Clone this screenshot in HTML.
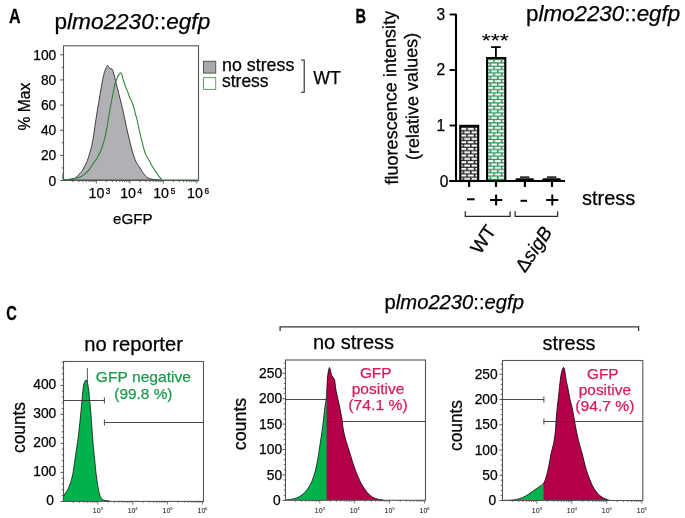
<!DOCTYPE html>
<html><head><meta charset="utf-8"><style>
html,body{margin:0;padding:0;background:#fff;width:685px;height:518px;overflow:hidden;}
svg{display:block;}
text{font-family:"Liberation Sans",sans-serif;}
svg{will-change:transform}
</style></head><body>
<svg width="685" height="518" viewBox="0 0 685 518">
<rect width="685" height="518" fill="#fff"/>
<text x="8.9" y="22.8" font-size="20" font-weight="bold" transform="translate(8.9 0) scale(0.8 1) translate(-8.9 0)" stroke="#000" stroke-width="0.25">A</text>
<text x="54.5" y="29.0" font-size="22.3" textLength="155.7" lengthAdjust="spacingAndGlyphs" stroke="#000" stroke-width="0.25">p<tspan font-style="italic">lmo2230</tspan>::<tspan font-style="italic">egfp</tspan></text>
<path d="M63.20,180.10 C63.64,180.06 66.08,179.88 67.00,179.80 C67.92,179.72 70.13,179.60 71.10,179.40 C72.07,179.20 74.48,178.58 75.30,178.10 C76.12,177.62 77.38,176.03 78.10,175.30 C78.82,174.57 80.78,172.78 81.50,171.80 C82.22,170.82 83.73,167.95 84.30,166.90 C84.87,165.85 85.91,163.93 86.40,162.80 C86.89,161.67 87.93,158.98 88.50,157.20 C89.07,155.41 90.74,149.76 91.30,147.50 C91.86,145.24 92.84,140.48 93.30,137.80 C93.75,135.12 94.78,127.36 95.20,124.50 C95.62,121.64 96.46,116.06 96.90,113.30 C97.34,110.53 98.51,103.72 99.00,100.80 C99.49,97.88 100.61,91.05 101.10,88.30 C101.59,85.55 102.79,79.14 103.20,77.20 C103.61,75.26 104.27,72.75 104.60,71.70 C104.93,70.65 105.67,68.94 106.00,68.20 C106.33,67.47 107.07,65.56 107.40,65.40 C107.73,65.24 108.48,66.39 108.80,66.80 C109.11,67.21 109.74,68.66 110.10,68.90 C110.46,69.15 111.53,68.57 111.90,68.90 C112.27,69.23 112.94,70.57 113.30,71.70 C113.66,72.83 114.56,76.81 115.00,78.60 C115.44,80.38 116.61,85.05 117.10,87.00 C117.59,88.95 118.69,93.26 119.20,95.30 C119.71,97.34 121.02,102.55 121.50,104.50 C121.98,106.45 122.91,110.27 123.30,112.00 C123.69,113.73 124.39,117.34 124.80,119.30 C125.21,121.26 126.24,126.32 126.80,128.80 C127.36,131.29 128.95,137.93 129.60,140.60 C130.25,143.27 131.68,149.27 132.40,151.70 C133.12,154.13 135.00,159.63 135.80,161.40 C136.61,163.17 138.48,165.61 139.30,166.90 C140.12,168.19 141.91,171.28 142.80,172.50 C143.69,173.72 145.85,176.62 146.90,177.40 C147.95,178.18 150.74,178.92 151.80,179.20 C152.86,179.48 154.95,179.70 156.00,179.80 C157.05,179.91 160.24,180.06 160.80,180.10 Z" fill="#b1b0b5" stroke="#2a2a2a" stroke-width="0.9"/>
<path d="M63.10,172.50 C63.10,173.33 62.49,178.79 63.10,179.60 C63.71,180.41 66.88,179.55 68.30,179.40 C69.72,179.25 73.84,178.62 75.30,178.30 C76.76,177.99 79.67,177.21 80.80,176.70 C81.93,176.19 84.02,174.72 85.00,173.90 C85.98,173.08 88.23,170.91 89.20,169.70 C90.17,168.49 92.33,164.96 93.30,163.50 C94.27,162.04 96.60,158.74 97.50,157.20 C98.40,155.66 100.27,152.09 101.00,150.30 C101.73,148.52 103.24,143.85 103.80,141.90 C104.36,139.95 105.37,135.63 105.80,133.60 C106.23,131.57 107.15,126.54 107.50,124.50 C107.85,122.46 108.41,118.38 108.80,116.10 C109.19,113.82 110.32,107.59 110.80,105.00 C111.28,102.41 112.45,96.25 112.90,93.90 C113.36,91.56 114.29,86.52 114.70,84.90 C115.11,83.28 116.04,80.98 116.40,80.00 C116.76,79.02 117.47,77.15 117.80,76.50 C118.13,75.85 118.87,74.83 119.20,74.40 C119.53,73.97 120.28,72.80 120.60,72.80 C120.91,72.80 121.59,73.56 121.90,74.40 C122.22,75.24 122.89,78.61 123.30,80.00 C123.71,81.39 124.91,85.00 125.40,86.30 C125.89,87.59 127.01,89.80 127.50,91.10 C127.99,92.39 129.11,96.19 129.60,97.40 C130.09,98.61 131.29,100.61 131.70,101.50 C132.11,102.39 132.76,103.95 133.10,105.00 C133.44,106.05 134.12,108.69 134.60,110.50 C135.08,112.31 136.57,117.81 137.20,120.50 C137.83,123.19 139.35,130.78 140.00,133.60 C140.65,136.42 142.15,142.27 142.80,144.70 C143.45,147.13 144.88,152.62 145.60,154.40 C146.32,156.19 148.28,158.69 149.00,160.00 C149.72,161.31 151.06,164.31 151.80,165.60 C152.54,166.89 154.48,169.89 155.30,171.10 C156.12,172.31 158.08,175.03 158.80,176.00 C159.52,176.97 160.89,178.94 161.50,179.40 C162.11,179.86 159.80,179.84 164.00,179.90 C168.20,179.96 193.59,179.90 197.50,179.90" fill="none" stroke="#2a8034" stroke-width="1.05"/>
<rect x="63.5" y="45.8" width="135.0" height="134.7" fill="none" stroke="#555" stroke-width="1.1"/>
<line x1="60.1" y1="180.50" x2="63.5" y2="180.50" stroke="#444" stroke-width="0.9"/>
<text x="56.3" y="185.50" font-size="13.8" text-anchor="end" font-weight="normal" fill="#000"  stroke="#000" stroke-width="0.25">0</text>
<line x1="61.7" y1="167.93" x2="63.5" y2="167.93" stroke="#444" stroke-width="0.9"/>
<line x1="60.1" y1="155.36" x2="63.5" y2="155.36" stroke="#444" stroke-width="0.9"/>
<text x="56.3" y="160.36" font-size="13.8" text-anchor="end" font-weight="normal" fill="#000"  stroke="#000" stroke-width="0.25">20</text>
<line x1="61.7" y1="142.79" x2="63.5" y2="142.79" stroke="#444" stroke-width="0.9"/>
<line x1="60.1" y1="130.22" x2="63.5" y2="130.22" stroke="#444" stroke-width="0.9"/>
<text x="56.3" y="135.22" font-size="13.8" text-anchor="end" font-weight="normal" fill="#000"  stroke="#000" stroke-width="0.25">40</text>
<line x1="61.7" y1="117.65" x2="63.5" y2="117.65" stroke="#444" stroke-width="0.9"/>
<line x1="60.1" y1="105.08" x2="63.5" y2="105.08" stroke="#444" stroke-width="0.9"/>
<text x="56.3" y="110.08" font-size="13.8" text-anchor="end" font-weight="normal" fill="#000"  stroke="#000" stroke-width="0.25">60</text>
<line x1="61.7" y1="92.51" x2="63.5" y2="92.51" stroke="#444" stroke-width="0.9"/>
<line x1="60.1" y1="79.94" x2="63.5" y2="79.94" stroke="#444" stroke-width="0.9"/>
<text x="56.3" y="84.94" font-size="13.8" text-anchor="end" font-weight="normal" fill="#000"  stroke="#000" stroke-width="0.25">80</text>
<line x1="61.7" y1="67.37" x2="63.5" y2="67.37" stroke="#444" stroke-width="0.9"/>
<line x1="60.1" y1="54.80" x2="63.5" y2="54.80" stroke="#444" stroke-width="0.9"/>
<text x="56.3" y="59.80" font-size="13.8" text-anchor="end" font-weight="normal" fill="#000"  stroke="#000" stroke-width="0.25">100</text>
<line x1="72.89" y1="180.5" x2="72.89" y2="182.1" stroke="#444" stroke-width="0.8"/>
<line x1="78.80" y1="180.5" x2="78.80" y2="182.1" stroke="#444" stroke-width="0.8"/>
<line x1="82.99" y1="180.5" x2="82.99" y2="182.1" stroke="#444" stroke-width="0.8"/>
<line x1="86.24" y1="180.5" x2="86.24" y2="182.1" stroke="#444" stroke-width="0.8"/>
<line x1="88.89" y1="180.5" x2="88.89" y2="182.1" stroke="#444" stroke-width="0.8"/>
<line x1="91.14" y1="180.5" x2="91.14" y2="182.1" stroke="#444" stroke-width="0.8"/>
<line x1="93.08" y1="180.5" x2="93.08" y2="182.1" stroke="#444" stroke-width="0.8"/>
<line x1="94.80" y1="180.5" x2="94.80" y2="182.1" stroke="#444" stroke-width="0.8"/>
<line x1="96.33" y1="180.5" x2="96.33" y2="183.5" stroke="#444" stroke-width="0.8"/>
<line x1="106.42" y1="180.5" x2="106.42" y2="182.1" stroke="#444" stroke-width="0.8"/>
<line x1="112.33" y1="180.5" x2="112.33" y2="182.1" stroke="#444" stroke-width="0.8"/>
<line x1="116.52" y1="180.5" x2="116.52" y2="182.1" stroke="#444" stroke-width="0.8"/>
<line x1="119.77" y1="180.5" x2="119.77" y2="182.1" stroke="#444" stroke-width="0.8"/>
<line x1="122.42" y1="180.5" x2="122.42" y2="182.1" stroke="#444" stroke-width="0.8"/>
<line x1="124.67" y1="180.5" x2="124.67" y2="182.1" stroke="#444" stroke-width="0.8"/>
<line x1="126.61" y1="180.5" x2="126.61" y2="182.1" stroke="#444" stroke-width="0.8"/>
<line x1="128.33" y1="180.5" x2="128.33" y2="182.1" stroke="#444" stroke-width="0.8"/>
<line x1="129.86" y1="180.5" x2="129.86" y2="183.5" stroke="#444" stroke-width="0.8"/>
<line x1="139.95" y1="180.5" x2="139.95" y2="182.1" stroke="#444" stroke-width="0.8"/>
<line x1="145.86" y1="180.5" x2="145.86" y2="182.1" stroke="#444" stroke-width="0.8"/>
<line x1="150.05" y1="180.5" x2="150.05" y2="182.1" stroke="#444" stroke-width="0.8"/>
<line x1="153.30" y1="180.5" x2="153.30" y2="182.1" stroke="#444" stroke-width="0.8"/>
<line x1="155.95" y1="180.5" x2="155.95" y2="182.1" stroke="#444" stroke-width="0.8"/>
<line x1="158.20" y1="180.5" x2="158.20" y2="182.1" stroke="#444" stroke-width="0.8"/>
<line x1="160.14" y1="180.5" x2="160.14" y2="182.1" stroke="#444" stroke-width="0.8"/>
<line x1="161.86" y1="180.5" x2="161.86" y2="182.1" stroke="#444" stroke-width="0.8"/>
<line x1="163.39" y1="180.5" x2="163.39" y2="183.5" stroke="#444" stroke-width="0.8"/>
<line x1="173.48" y1="180.5" x2="173.48" y2="182.1" stroke="#444" stroke-width="0.8"/>
<line x1="179.39" y1="180.5" x2="179.39" y2="182.1" stroke="#444" stroke-width="0.8"/>
<line x1="183.58" y1="180.5" x2="183.58" y2="182.1" stroke="#444" stroke-width="0.8"/>
<line x1="186.83" y1="180.5" x2="186.83" y2="182.1" stroke="#444" stroke-width="0.8"/>
<line x1="189.48" y1="180.5" x2="189.48" y2="182.1" stroke="#444" stroke-width="0.8"/>
<line x1="191.73" y1="180.5" x2="191.73" y2="182.1" stroke="#444" stroke-width="0.8"/>
<line x1="193.67" y1="180.5" x2="193.67" y2="182.1" stroke="#444" stroke-width="0.8"/>
<line x1="195.39" y1="180.5" x2="195.39" y2="182.1" stroke="#444" stroke-width="0.8"/>
<line x1="196.92" y1="180.5" x2="196.92" y2="183.5" stroke="#444" stroke-width="0.8"/>
<text x="88.6" y="198.4" font-size="15.3" textLength="15.8" lengthAdjust="spacingAndGlyphs" stroke="#000" stroke-width="0.25">10</text>
<text x="105.7" y="193.9" font-size="8.4" textLength="4.6" lengthAdjust="spacingAndGlyphs" stroke="#000" stroke-width="0.25">3</text>
<text x="120.2" y="198.4" font-size="15.3" textLength="15.8" lengthAdjust="spacingAndGlyphs" stroke="#000" stroke-width="0.25">10</text>
<text x="137.4" y="193.9" font-size="8.4" textLength="4.6" lengthAdjust="spacingAndGlyphs" stroke="#000" stroke-width="0.25">4</text>
<text x="153.2" y="198.4" font-size="15.3" textLength="15.8" lengthAdjust="spacingAndGlyphs" stroke="#000" stroke-width="0.25">10</text>
<text x="170.7" y="193.9" font-size="8.4" textLength="4.6" lengthAdjust="spacingAndGlyphs" stroke="#000" stroke-width="0.25">5</text>
<text x="187.1" y="198.4" font-size="15.3" textLength="15.8" lengthAdjust="spacingAndGlyphs" stroke="#000" stroke-width="0.25">10</text>
<text x="204.5" y="193.9" font-size="8.4" textLength="4.6" lengthAdjust="spacingAndGlyphs" stroke="#000" stroke-width="0.25">6</text>
<text x="132.85" y="223.6" font-size="15.2" text-anchor="middle" font-weight="normal" fill="#000" textLength="39.5" lengthAdjust="spacingAndGlyphs"  stroke="#000" stroke-width="0.25">eGFP</text>
<text transform="translate(29.6 106.6) rotate(-90)" font-size="16" text-anchor="middle" textLength="47.7" lengthAdjust="spacingAndGlyphs" stroke="#000" stroke-width="0.25">% Max</text>
<rect x="203.5" y="61.3" width="12.2" height="11.8" fill="#a9a8ad" stroke="#555" stroke-width="1"/>
<rect x="203.5" y="77.6" width="12.2" height="11.8" fill="#fff" stroke="#5aa55e" stroke-width="1"/>
<text x="222.1" y="70.8" font-size="17.8" text-anchor="start" font-weight="normal" fill="#000" textLength="72.2" lengthAdjust="spacingAndGlyphs"  stroke="#000" stroke-width="0.25">no stress</text>
<text x="222.0" y="87.0" font-size="17.8" text-anchor="start" font-weight="normal" fill="#000" textLength="46.6" lengthAdjust="spacingAndGlyphs"  stroke="#000" stroke-width="0.25">stress</text>
<path d="M301,60 H304.2 V92.3 H301" fill="none" stroke="#222" stroke-width="1.1"/>
<text x="313.3" y="83.9" font-size="18" text-anchor="start" font-weight="normal" fill="#000" textLength="27.5" lengthAdjust="spacingAndGlyphs"  stroke="#000" stroke-width="0.25">WT</text>
<text x="355.5" y="22.9" font-size="20.6" font-weight="bold" transform="translate(355.5 0) scale(0.71 1) translate(-355.5 0)" stroke="#000" stroke-width="0.25">B</text>
<text x="526" y="20.6" font-size="22.3" textLength="154.2" lengthAdjust="spacingAndGlyphs" stroke="#000" stroke-width="0.25">p<tspan font-style="italic">lmo2230</tspan>::<tspan font-style="italic">egfp</tspan></text>
<defs><pattern id="brickK" x="459.8" y="126.9" width="7.5" height="6.66" patternUnits="userSpaceOnUse"><rect width="7.5" height="6.66" fill="#1e1e1e"/><rect x="0.5" y="1.0" width="6" height="2.1" fill="#fff"/><rect x="-3.25" y="4.33" width="6" height="2.1" fill="#fff"/><rect x="4.25" y="4.33" width="6" height="2.1" fill="#fff"/></pattern><pattern id="brickG" x="486.8" y="59.2" width="7.5" height="6.66" patternUnits="userSpaceOnUse"><rect width="7.5" height="6.66" fill="#2f8f57"/><rect x="0.5" y="1.0" width="6" height="2.1" fill="#fff"/><rect x="-3.25" y="4.33" width="6" height="2.1" fill="#fff"/><rect x="4.25" y="4.33" width="6" height="2.1" fill="#fff"/></pattern></defs>
<rect x="460.27" y="125.85" width="17.95" height="55.15" fill="url(#brickK)" stroke="#000" stroke-width="2.1"/>
<rect x="487.10" y="58.10" width="18.20" height="122.90" fill="url(#brickG)" stroke="#000" stroke-width="2.1"/>
<line x1="495.9" y1="58" x2="495.9" y2="47.1" stroke="#000" stroke-width="1.8"/>
<line x1="491.1" y1="47.1" x2="500.8" y2="47.1" stroke="#000" stroke-width="1.8"/>
<path d="M514.50,181.0 L516.20,178.20 L533.20,178.20 L534.90,181.0 Z" fill="#000"/>
<line x1="520.0" y1="177.1" x2="529.4000000000001" y2="177.1" stroke="#000" stroke-width="1.4"/>
<path d="M541.40,181.0 L543.10,178.20 L560.10,178.20 L561.80,181.0 Z" fill="#000"/>
<line x1="546.9" y1="177.1" x2="556.3000000000001" y2="177.1" stroke="#000" stroke-width="1.4"/>
<line x1="456.0" y1="13.8" x2="456.0" y2="182.0" stroke="#000" stroke-width="2.1"/>
<line x1="449.2" y1="181.0" x2="565" y2="181.0" stroke="#000" stroke-width="2.1"/>
<text x="448.4" y="186.60" font-size="15.6" text-anchor="end" font-weight="normal" fill="#000"  stroke="#000" stroke-width="0.25">0</text>
<line x1="449.6" y1="125.50" x2="456.0" y2="125.50" stroke="#000" stroke-width="1.9"/>
<text x="445.3" y="130.80" font-size="15.6" text-anchor="end" font-weight="normal" fill="#000"  stroke="#000" stroke-width="0.25">1</text>
<line x1="449.6" y1="70.00" x2="456.0" y2="70.00" stroke="#000" stroke-width="1.9"/>
<text x="445.3" y="75.30" font-size="15.6" text-anchor="end" font-weight="normal" fill="#000"  stroke="#000" stroke-width="0.25">2</text>
<line x1="449.6" y1="14.50" x2="456.0" y2="14.50" stroke="#000" stroke-width="1.9"/>
<text x="445.3" y="19.80" font-size="15.6" text-anchor="end" font-weight="normal" fill="#000"  stroke="#000" stroke-width="0.25">3</text>
<line x1="469.1" y1="181.0" x2="469.1" y2="186.9" stroke="#000" stroke-width="2.2"/>
<line x1="496.0" y1="181.0" x2="496.0" y2="186.9" stroke="#000" stroke-width="2.2"/>
<line x1="524.9" y1="181.0" x2="524.9" y2="186.9" stroke="#000" stroke-width="2.2"/>
<line x1="552.0" y1="181.0" x2="552.0" y2="186.9" stroke="#000" stroke-width="2.2"/>
<text x="495.3" y="46.5" font-size="17.5" text-anchor="middle" font-weight="normal" fill="#000" textLength="27" lengthAdjust="spacingAndGlyphs" stroke="#000" stroke-width="0.1">***</text>
<text transform="translate(396.5 97.7) rotate(-91)" font-size="18" text-anchor="middle" textLength="173.8" lengthAdjust="spacingAndGlyphs" stroke="#000" stroke-width="0.25">fluorescence intensity</text>
<text transform="translate(418.0 96.4) rotate(-91)" font-size="18" text-anchor="middle" textLength="127.2" lengthAdjust="spacingAndGlyphs" stroke="#000" stroke-width="0.25">(relative values)</text>
<line x1="467" y1="199.3" x2="474.6" y2="199.3" stroke="#000" stroke-width="2"/>
<line x1="520.5" y1="200.8" x2="527" y2="200.8" stroke="#000" stroke-width="2"/>
<line x1="490.0" y1="200" x2="502.20000000000005" y2="200" stroke="#000" stroke-width="2"/>
<line x1="496.1" y1="194.5" x2="496.1" y2="205.5" stroke="#000" stroke-width="2"/>
<line x1="546.1999999999999" y1="200" x2="558.4" y2="200" stroke="#000" stroke-width="2"/>
<line x1="552.3" y1="194.5" x2="552.3" y2="205.5" stroke="#000" stroke-width="2"/>
<text x="582" y="204.6" font-size="20" text-anchor="start" font-weight="normal" fill="#000" textLength="53.2" lengthAdjust="spacingAndGlyphs"  stroke="#000" stroke-width="0.25">stress</text>
<path d="M465.3,211.3 V216.4 H510.1 V211.3" fill="none" stroke="#2a2a2a" stroke-width="1.25"/>
<path d="M515.1,211.3 V216.4 H557.6 V211.3" fill="none" stroke="#2a2a2a" stroke-width="1.25"/>
<text transform="translate(480.2 255.2) rotate(-56)" font-size="19" stroke="#000" stroke-width="0.25">WT</text>
<text transform="translate(525 273.5) rotate(-56)" font-size="19" stroke="#000" stroke-width="0.25">&#916;<tspan font-style="italic">sigB</tspan></text>
<text x="6.3" y="319.6" font-size="20.7" font-weight="bold" transform="translate(6.3 0) scale(0.71 1) translate(-6.3 0)" stroke="#000" stroke-width="0.25">C</text>
<clipPath id="c63m"><rect x="104.3" y="361.5" width="99.2" height="139.89999999999998"/></clipPath>
<path d="M63.40,500.50 C63.40,499.99 63.20,497.59 63.40,496.70 C63.60,495.81 64.31,494.77 64.90,493.80 C65.49,492.83 67.03,490.95 67.80,489.40 C68.57,487.85 70.02,484.32 70.70,482.20 C71.38,480.08 72.33,476.59 72.90,473.50 C73.47,470.41 74.43,462.87 75.00,459.00 C75.57,455.13 76.65,448.37 77.20,444.50 C77.75,440.63 78.61,434.33 79.10,430.00 C79.59,425.67 80.47,416.39 80.90,412.00 C81.33,407.61 81.94,400.70 82.30,397.10 C82.66,393.50 83.16,387.25 83.60,385.00 C84.04,382.75 85.15,380.75 85.60,380.20 C86.05,379.65 86.63,379.90 87.00,380.90 C87.37,381.90 88.04,385.18 88.40,387.70 C88.76,390.22 89.34,396.03 89.70,399.80 C90.06,403.57 90.78,411.97 91.10,416.00 C91.42,420.03 91.82,426.20 92.10,430.00 C92.38,433.80 92.87,440.63 93.20,444.50 C93.53,448.37 94.21,455.13 94.60,459.00 C94.99,462.87 95.62,469.63 96.10,473.50 C96.58,477.37 97.63,484.91 98.20,488.00 C98.77,491.09 99.63,495.06 100.40,496.70 C101.17,498.34 102.75,499.73 104.00,500.30 C105.25,500.87 109.03,500.91 109.80,501.00 L109.80,501.4 L63.40,501.4 Z" fill="#00b24b"/>
<path d="M63.40,500.50 C63.40,499.99 63.20,497.59 63.40,496.70 C63.60,495.81 64.31,494.77 64.90,493.80 C65.49,492.83 67.03,490.95 67.80,489.40 C68.57,487.85 70.02,484.32 70.70,482.20 C71.38,480.08 72.33,476.59 72.90,473.50 C73.47,470.41 74.43,462.87 75.00,459.00 C75.57,455.13 76.65,448.37 77.20,444.50 C77.75,440.63 78.61,434.33 79.10,430.00 C79.59,425.67 80.47,416.39 80.90,412.00 C81.33,407.61 81.94,400.70 82.30,397.10 C82.66,393.50 83.16,387.25 83.60,385.00 C84.04,382.75 85.15,380.75 85.60,380.20 C86.05,379.65 86.63,379.90 87.00,380.90 C87.37,381.90 88.04,385.18 88.40,387.70 C88.76,390.22 89.34,396.03 89.70,399.80 C90.06,403.57 90.78,411.97 91.10,416.00 C91.42,420.03 91.82,426.20 92.10,430.00 C92.38,433.80 92.87,440.63 93.20,444.50 C93.53,448.37 94.21,455.13 94.60,459.00 C94.99,462.87 95.62,469.63 96.10,473.50 C96.58,477.37 97.63,484.91 98.20,488.00 C98.77,491.09 99.63,495.06 100.40,496.70 C101.17,498.34 102.75,499.73 104.00,500.30 C105.25,500.87 109.03,500.91 109.80,501.00 L109.80,501.4 L63.40,501.4 Z" fill="#b4004b" clip-path="url(#c63m)"/>
<path d="M63.40,500.50 C63.40,499.99 63.20,497.59 63.40,496.70 C63.60,495.81 64.31,494.77 64.90,493.80 C65.49,492.83 67.03,490.95 67.80,489.40 C68.57,487.85 70.02,484.32 70.70,482.20 C71.38,480.08 72.33,476.59 72.90,473.50 C73.47,470.41 74.43,462.87 75.00,459.00 C75.57,455.13 76.65,448.37 77.20,444.50 C77.75,440.63 78.61,434.33 79.10,430.00 C79.59,425.67 80.47,416.39 80.90,412.00 C81.33,407.61 81.94,400.70 82.30,397.10 C82.66,393.50 83.16,387.25 83.60,385.00 C84.04,382.75 85.15,380.75 85.60,380.20 C86.05,379.65 86.63,379.90 87.00,380.90 C87.37,381.90 88.04,385.18 88.40,387.70 C88.76,390.22 89.34,396.03 89.70,399.80 C90.06,403.57 90.78,411.97 91.10,416.00 C91.42,420.03 91.82,426.20 92.10,430.00 C92.38,433.80 92.87,440.63 93.20,444.50 C93.53,448.37 94.21,455.13 94.60,459.00 C94.99,462.87 95.62,469.63 96.10,473.50 C96.58,477.37 97.63,484.91 98.20,488.00 C98.77,491.09 99.63,495.06 100.40,496.70 C101.17,498.34 102.75,499.73 104.00,500.30 C105.25,500.87 109.03,500.91 109.80,501.00" fill="none" stroke="#1a0510" stroke-width="0.9" stroke-opacity="0.85"/>
<line x1="87.4" y1="368.1" x2="87.4" y2="382.3" stroke="#333" stroke-width="0.8"/>
<rect x="63.5" y="361.5" width="140.0" height="139.89999999999998" fill="none" stroke="#555" stroke-width="1.1"/>
<line x1="60.5" y1="501.40" x2="63.5" y2="501.40" stroke="#444" stroke-width="0.9"/>
<text x="54.00" y="505.00" font-size="13.8" text-anchor="end" font-weight="normal" fill="#000"  stroke="#000" stroke-width="0.25">0</text>
<line x1="60.5" y1="472.40" x2="63.5" y2="472.40" stroke="#444" stroke-width="0.9"/>
<text x="56.30" y="476.00" font-size="13.8" text-anchor="end" font-weight="normal" fill="#000"  stroke="#000" stroke-width="0.25">100</text>
<line x1="60.5" y1="443.40" x2="63.5" y2="443.40" stroke="#444" stroke-width="0.9"/>
<text x="56.30" y="447.00" font-size="13.8" text-anchor="end" font-weight="normal" fill="#000"  stroke="#000" stroke-width="0.25">200</text>
<line x1="60.5" y1="414.40" x2="63.5" y2="414.40" stroke="#444" stroke-width="0.9"/>
<text x="56.30" y="418.00" font-size="13.8" text-anchor="end" font-weight="normal" fill="#000"  stroke="#000" stroke-width="0.25">300</text>
<line x1="60.5" y1="385.40" x2="63.5" y2="385.40" stroke="#444" stroke-width="0.9"/>
<text x="56.30" y="389.00" font-size="13.8" text-anchor="end" font-weight="normal" fill="#000"  stroke="#000" stroke-width="0.25">400</text>
<line x1="61.7" y1="495.60" x2="63.5" y2="495.60" stroke="#444" stroke-width="0.8"/>
<line x1="61.7" y1="489.80" x2="63.5" y2="489.80" stroke="#444" stroke-width="0.8"/>
<line x1="61.7" y1="484.00" x2="63.5" y2="484.00" stroke="#444" stroke-width="0.8"/>
<line x1="61.7" y1="478.20" x2="63.5" y2="478.20" stroke="#444" stroke-width="0.8"/>
<line x1="61.7" y1="466.60" x2="63.5" y2="466.60" stroke="#444" stroke-width="0.8"/>
<line x1="61.7" y1="460.80" x2="63.5" y2="460.80" stroke="#444" stroke-width="0.8"/>
<line x1="61.7" y1="455.00" x2="63.5" y2="455.00" stroke="#444" stroke-width="0.8"/>
<line x1="61.7" y1="449.20" x2="63.5" y2="449.20" stroke="#444" stroke-width="0.8"/>
<line x1="61.7" y1="437.60" x2="63.5" y2="437.60" stroke="#444" stroke-width="0.8"/>
<line x1="61.7" y1="431.80" x2="63.5" y2="431.80" stroke="#444" stroke-width="0.8"/>
<line x1="61.7" y1="426.00" x2="63.5" y2="426.00" stroke="#444" stroke-width="0.8"/>
<line x1="61.7" y1="420.20" x2="63.5" y2="420.20" stroke="#444" stroke-width="0.8"/>
<line x1="61.7" y1="408.60" x2="63.5" y2="408.60" stroke="#444" stroke-width="0.8"/>
<line x1="61.7" y1="402.80" x2="63.5" y2="402.80" stroke="#444" stroke-width="0.8"/>
<line x1="61.7" y1="397.00" x2="63.5" y2="397.00" stroke="#444" stroke-width="0.8"/>
<line x1="61.7" y1="391.20" x2="63.5" y2="391.20" stroke="#444" stroke-width="0.8"/>
<line x1="61.7" y1="379.60" x2="63.5" y2="379.60" stroke="#444" stroke-width="0.8"/>
<line x1="61.7" y1="373.80" x2="63.5" y2="373.80" stroke="#444" stroke-width="0.8"/>
<line x1="61.7" y1="368.00" x2="63.5" y2="368.00" stroke="#444" stroke-width="0.8"/>
<line x1="61.7" y1="362.20" x2="63.5" y2="362.20" stroke="#444" stroke-width="0.8"/>
<line x1="73.41" y1="501.4" x2="73.41" y2="502.9" stroke="#444" stroke-width="0.7"/>
<line x1="79.55" y1="501.4" x2="79.55" y2="502.9" stroke="#444" stroke-width="0.7"/>
<line x1="83.91" y1="501.4" x2="83.91" y2="502.9" stroke="#444" stroke-width="0.7"/>
<line x1="87.29" y1="501.4" x2="87.29" y2="502.9" stroke="#444" stroke-width="0.7"/>
<line x1="90.06" y1="501.4" x2="90.06" y2="502.9" stroke="#444" stroke-width="0.7"/>
<line x1="92.39" y1="501.4" x2="92.39" y2="502.9" stroke="#444" stroke-width="0.7"/>
<line x1="94.42" y1="501.4" x2="94.42" y2="502.9" stroke="#444" stroke-width="0.7"/>
<line x1="96.20" y1="501.4" x2="96.20" y2="502.9" stroke="#444" stroke-width="0.7"/>
<line x1="97.80" y1="501.4" x2="97.80" y2="504.59999999999997" stroke="#444" stroke-width="0.7"/>
<line x1="108.31" y1="501.4" x2="108.31" y2="502.9" stroke="#444" stroke-width="0.7"/>
<line x1="114.45" y1="501.4" x2="114.45" y2="502.9" stroke="#444" stroke-width="0.7"/>
<line x1="118.81" y1="501.4" x2="118.81" y2="502.9" stroke="#444" stroke-width="0.7"/>
<line x1="122.19" y1="501.4" x2="122.19" y2="502.9" stroke="#444" stroke-width="0.7"/>
<line x1="124.96" y1="501.4" x2="124.96" y2="502.9" stroke="#444" stroke-width="0.7"/>
<line x1="127.29" y1="501.4" x2="127.29" y2="502.9" stroke="#444" stroke-width="0.7"/>
<line x1="129.32" y1="501.4" x2="129.32" y2="502.9" stroke="#444" stroke-width="0.7"/>
<line x1="131.10" y1="501.4" x2="131.10" y2="502.9" stroke="#444" stroke-width="0.7"/>
<line x1="132.70" y1="501.4" x2="132.70" y2="504.59999999999997" stroke="#444" stroke-width="0.7"/>
<line x1="143.21" y1="501.4" x2="143.21" y2="502.9" stroke="#444" stroke-width="0.7"/>
<line x1="149.35" y1="501.4" x2="149.35" y2="502.9" stroke="#444" stroke-width="0.7"/>
<line x1="153.71" y1="501.4" x2="153.71" y2="502.9" stroke="#444" stroke-width="0.7"/>
<line x1="157.09" y1="501.4" x2="157.09" y2="502.9" stroke="#444" stroke-width="0.7"/>
<line x1="159.86" y1="501.4" x2="159.86" y2="502.9" stroke="#444" stroke-width="0.7"/>
<line x1="162.19" y1="501.4" x2="162.19" y2="502.9" stroke="#444" stroke-width="0.7"/>
<line x1="164.22" y1="501.4" x2="164.22" y2="502.9" stroke="#444" stroke-width="0.7"/>
<line x1="166.00" y1="501.4" x2="166.00" y2="502.9" stroke="#444" stroke-width="0.7"/>
<line x1="167.60" y1="501.4" x2="167.60" y2="504.59999999999997" stroke="#444" stroke-width="0.7"/>
<line x1="178.11" y1="501.4" x2="178.11" y2="502.9" stroke="#444" stroke-width="0.7"/>
<line x1="184.25" y1="501.4" x2="184.25" y2="502.9" stroke="#444" stroke-width="0.7"/>
<line x1="188.61" y1="501.4" x2="188.61" y2="502.9" stroke="#444" stroke-width="0.7"/>
<line x1="191.99" y1="501.4" x2="191.99" y2="502.9" stroke="#444" stroke-width="0.7"/>
<line x1="194.76" y1="501.4" x2="194.76" y2="502.9" stroke="#444" stroke-width="0.7"/>
<line x1="197.09" y1="501.4" x2="197.09" y2="502.9" stroke="#444" stroke-width="0.7"/>
<line x1="199.12" y1="501.4" x2="199.12" y2="502.9" stroke="#444" stroke-width="0.7"/>
<line x1="200.90" y1="501.4" x2="200.90" y2="502.9" stroke="#444" stroke-width="0.7"/>
<line x1="202.5" y1="501.4" x2="202.5" y2="504.59999999999997" stroke="#444" stroke-width="0.7"/>
<text x="96.70" y="512.9" font-size="7.0" text-anchor="middle">10</text>
<text x="100.40" y="510.4" font-size="4.4">3</text>
<text x="131.60" y="512.9" font-size="7.0" text-anchor="middle">10</text>
<text x="135.30" y="510.4" font-size="4.4">4</text>
<text x="166.50" y="512.9" font-size="7.0" text-anchor="middle">10</text>
<text x="170.20" y="510.4" font-size="4.4">5</text>
<text x="201.40" y="512.9" font-size="7.0" text-anchor="middle">10</text>
<text x="205.10" y="510.4" font-size="4.4">6</text>
<line x1="63.5" y1="400.5" x2="104.4" y2="400.5" stroke="#333" stroke-width="0.9"/>
<line x1="104.4" y1="422.5" x2="203.5" y2="422.5" stroke="#333" stroke-width="0.9"/>
<line x1="104.4" y1="397.5" x2="104.4" y2="403.5" stroke="#333" stroke-width="0.9"/>
<line x1="104.4" y1="419.5" x2="104.4" y2="425.5" stroke="#333" stroke-width="0.9"/>
<text x="133.6" y="350.5" font-size="20" text-anchor="middle" font-weight="normal" fill="#000" textLength="98.5" lengthAdjust="spacingAndGlyphs"  stroke="#000" stroke-width="0.25">no reporter</text>
<text x="143.4" y="382.2" font-size="15.5" text-anchor="middle" font-weight="normal" fill="#1a9b4b" textLength="95.2" lengthAdjust="spacingAndGlyphs"  stroke="#1a9b4b" stroke-width="0.25">GFP negative</text>
<text x="143.4" y="398.8" font-size="15.5" text-anchor="middle" font-weight="normal" fill="#1a9b4b" textLength="58.2" lengthAdjust="spacingAndGlyphs"  stroke="#1a9b4b" stroke-width="0.25">(99.8 %)</text>
<text transform="translate(24.6 427.5) rotate(-90)" font-size="17.5" text-anchor="middle" textLength="51" lengthAdjust="spacingAndGlyphs" stroke="#000" stroke-width="0.25">counts</text>
<clipPath id="c285m"><rect x="326.6" y="360.0" width="98.89999999999998" height="140.3"/></clipPath>
<path d="M286.50,499.80 C287.07,499.73 289.44,499.55 290.80,499.30 C292.16,499.05 295.23,498.47 296.70,497.90 C298.17,497.33 300.44,496.07 301.80,495.00 C303.16,493.93 305.63,491.55 306.90,489.90 C308.17,488.25 310.23,484.95 311.30,482.60 C312.37,480.25 314.03,475.42 314.90,472.30 C315.77,469.18 317.12,462.89 317.80,459.20 C318.48,455.51 319.41,448.49 320.00,444.60 C320.59,440.71 321.72,433.44 322.20,430.00 C322.68,426.56 323.23,421.92 323.60,418.80 C323.97,415.68 324.63,409.49 325.00,406.60 C325.37,403.71 326.13,399.81 326.40,397.10 C326.67,394.39 326.83,389.18 327.00,386.30 C327.17,383.42 327.37,378.01 327.70,375.50 C328.03,372.99 328.95,367.50 329.50,367.50 C330.05,367.50 331.13,373.89 331.80,375.50 C332.47,377.11 333.97,377.80 334.50,379.60 C335.03,381.40 335.36,386.48 335.80,389.00 C336.24,391.52 337.25,395.97 337.80,398.50 C338.35,401.03 339.35,405.29 339.90,408.00 C340.45,410.71 341.43,415.87 341.90,418.80 C342.37,421.73 342.81,426.95 343.40,430.00 C343.99,433.05 345.42,438.58 346.30,441.70 C347.18,444.82 349.03,450.29 350.00,453.40 C350.97,456.51 352.53,461.89 353.60,465.00 C354.67,468.11 356.83,473.97 358.00,476.70 C359.17,479.43 361.13,483.35 362.40,485.50 C363.67,487.65 366.14,491.24 367.50,492.80 C368.86,494.36 371.15,496.33 372.60,497.20 C374.05,498.07 376.84,498.89 378.40,499.30 C379.96,499.71 383.51,500.17 384.30,500.30 L384.30,500.3 L286.50,500.3 Z" fill="#00b24b"/>
<path d="M286.50,499.80 C287.07,499.73 289.44,499.55 290.80,499.30 C292.16,499.05 295.23,498.47 296.70,497.90 C298.17,497.33 300.44,496.07 301.80,495.00 C303.16,493.93 305.63,491.55 306.90,489.90 C308.17,488.25 310.23,484.95 311.30,482.60 C312.37,480.25 314.03,475.42 314.90,472.30 C315.77,469.18 317.12,462.89 317.80,459.20 C318.48,455.51 319.41,448.49 320.00,444.60 C320.59,440.71 321.72,433.44 322.20,430.00 C322.68,426.56 323.23,421.92 323.60,418.80 C323.97,415.68 324.63,409.49 325.00,406.60 C325.37,403.71 326.13,399.81 326.40,397.10 C326.67,394.39 326.83,389.18 327.00,386.30 C327.17,383.42 327.37,378.01 327.70,375.50 C328.03,372.99 328.95,367.50 329.50,367.50 C330.05,367.50 331.13,373.89 331.80,375.50 C332.47,377.11 333.97,377.80 334.50,379.60 C335.03,381.40 335.36,386.48 335.80,389.00 C336.24,391.52 337.25,395.97 337.80,398.50 C338.35,401.03 339.35,405.29 339.90,408.00 C340.45,410.71 341.43,415.87 341.90,418.80 C342.37,421.73 342.81,426.95 343.40,430.00 C343.99,433.05 345.42,438.58 346.30,441.70 C347.18,444.82 349.03,450.29 350.00,453.40 C350.97,456.51 352.53,461.89 353.60,465.00 C354.67,468.11 356.83,473.97 358.00,476.70 C359.17,479.43 361.13,483.35 362.40,485.50 C363.67,487.65 366.14,491.24 367.50,492.80 C368.86,494.36 371.15,496.33 372.60,497.20 C374.05,498.07 376.84,498.89 378.40,499.30 C379.96,499.71 383.51,500.17 384.30,500.30 L384.30,500.3 L286.50,500.3 Z" fill="#b4004b" clip-path="url(#c285m)"/>
<path d="M286.50,499.80 C287.07,499.73 289.44,499.55 290.80,499.30 C292.16,499.05 295.23,498.47 296.70,497.90 C298.17,497.33 300.44,496.07 301.80,495.00 C303.16,493.93 305.63,491.55 306.90,489.90 C308.17,488.25 310.23,484.95 311.30,482.60 C312.37,480.25 314.03,475.42 314.90,472.30 C315.77,469.18 317.12,462.89 317.80,459.20 C318.48,455.51 319.41,448.49 320.00,444.60 C320.59,440.71 321.72,433.44 322.20,430.00 C322.68,426.56 323.23,421.92 323.60,418.80 C323.97,415.68 324.63,409.49 325.00,406.60 C325.37,403.71 326.13,399.81 326.40,397.10 C326.67,394.39 326.83,389.18 327.00,386.30 C327.17,383.42 327.37,378.01 327.70,375.50 C328.03,372.99 328.95,367.50 329.50,367.50 C330.05,367.50 331.13,373.89 331.80,375.50 C332.47,377.11 333.97,377.80 334.50,379.60 C335.03,381.40 335.36,386.48 335.80,389.00 C336.24,391.52 337.25,395.97 337.80,398.50 C338.35,401.03 339.35,405.29 339.90,408.00 C340.45,410.71 341.43,415.87 341.90,418.80 C342.37,421.73 342.81,426.95 343.40,430.00 C343.99,433.05 345.42,438.58 346.30,441.70 C347.18,444.82 349.03,450.29 350.00,453.40 C350.97,456.51 352.53,461.89 353.60,465.00 C354.67,468.11 356.83,473.97 358.00,476.70 C359.17,479.43 361.13,483.35 362.40,485.50 C363.67,487.65 366.14,491.24 367.50,492.80 C368.86,494.36 371.15,496.33 372.60,497.20 C374.05,498.07 376.84,498.89 378.40,499.30 C379.96,499.71 383.51,500.17 384.30,500.30" fill="none" stroke="#1a0510" stroke-width="0.9" stroke-opacity="0.85"/>
<rect x="285.5" y="360.0" width="140.0" height="140.3" fill="none" stroke="#555" stroke-width="1.1"/>
<line x1="282.5" y1="500.30" x2="285.5" y2="500.30" stroke="#444" stroke-width="0.9"/>
<text x="280.60" y="504.90" font-size="13.8" text-anchor="end" font-weight="normal" fill="#000"  stroke="#000" stroke-width="0.25">0</text>
<line x1="282.5" y1="474.90" x2="285.5" y2="474.90" stroke="#444" stroke-width="0.9"/>
<text x="282.10" y="479.50" font-size="13.8" text-anchor="end" font-weight="normal" fill="#000"  stroke="#000" stroke-width="0.25">50</text>
<line x1="282.5" y1="449.50" x2="285.5" y2="449.50" stroke="#444" stroke-width="0.9"/>
<text x="282.10" y="454.10" font-size="13.8" text-anchor="end" font-weight="normal" fill="#000"  stroke="#000" stroke-width="0.25">100</text>
<line x1="282.5" y1="424.10" x2="285.5" y2="424.10" stroke="#444" stroke-width="0.9"/>
<text x="282.10" y="428.70" font-size="13.8" text-anchor="end" font-weight="normal" fill="#000"  stroke="#000" stroke-width="0.25">150</text>
<line x1="282.5" y1="398.70" x2="285.5" y2="398.70" stroke="#444" stroke-width="0.9"/>
<text x="282.10" y="403.30" font-size="13.8" text-anchor="end" font-weight="normal" fill="#000"  stroke="#000" stroke-width="0.25">200</text>
<line x1="282.5" y1="373.30" x2="285.5" y2="373.30" stroke="#444" stroke-width="0.9"/>
<text x="282.10" y="377.90" font-size="13.8" text-anchor="end" font-weight="normal" fill="#000"  stroke="#000" stroke-width="0.25">250</text>
<line x1="283.7" y1="495.22" x2="285.5" y2="495.22" stroke="#444" stroke-width="0.8"/>
<line x1="283.7" y1="490.14" x2="285.5" y2="490.14" stroke="#444" stroke-width="0.8"/>
<line x1="283.7" y1="485.06" x2="285.5" y2="485.06" stroke="#444" stroke-width="0.8"/>
<line x1="283.7" y1="479.98" x2="285.5" y2="479.98" stroke="#444" stroke-width="0.8"/>
<line x1="283.7" y1="469.82" x2="285.5" y2="469.82" stroke="#444" stroke-width="0.8"/>
<line x1="283.7" y1="464.74" x2="285.5" y2="464.74" stroke="#444" stroke-width="0.8"/>
<line x1="283.7" y1="459.66" x2="285.5" y2="459.66" stroke="#444" stroke-width="0.8"/>
<line x1="283.7" y1="454.58" x2="285.5" y2="454.58" stroke="#444" stroke-width="0.8"/>
<line x1="283.7" y1="444.42" x2="285.5" y2="444.42" stroke="#444" stroke-width="0.8"/>
<line x1="283.7" y1="439.34" x2="285.5" y2="439.34" stroke="#444" stroke-width="0.8"/>
<line x1="283.7" y1="434.26" x2="285.5" y2="434.26" stroke="#444" stroke-width="0.8"/>
<line x1="283.7" y1="429.18" x2="285.5" y2="429.18" stroke="#444" stroke-width="0.8"/>
<line x1="283.7" y1="419.02" x2="285.5" y2="419.02" stroke="#444" stroke-width="0.8"/>
<line x1="283.7" y1="413.94" x2="285.5" y2="413.94" stroke="#444" stroke-width="0.8"/>
<line x1="283.7" y1="408.86" x2="285.5" y2="408.86" stroke="#444" stroke-width="0.8"/>
<line x1="283.7" y1="403.78" x2="285.5" y2="403.78" stroke="#444" stroke-width="0.8"/>
<line x1="283.7" y1="393.62" x2="285.5" y2="393.62" stroke="#444" stroke-width="0.8"/>
<line x1="283.7" y1="388.54" x2="285.5" y2="388.54" stroke="#444" stroke-width="0.8"/>
<line x1="283.7" y1="383.46" x2="285.5" y2="383.46" stroke="#444" stroke-width="0.8"/>
<line x1="283.7" y1="378.38" x2="285.5" y2="378.38" stroke="#444" stroke-width="0.8"/>
<line x1="283.7" y1="368.22" x2="285.5" y2="368.22" stroke="#444" stroke-width="0.8"/>
<line x1="283.7" y1="363.14" x2="285.5" y2="363.14" stroke="#444" stroke-width="0.8"/>
<line x1="295.41" y1="500.3" x2="295.41" y2="501.8" stroke="#444" stroke-width="0.7"/>
<line x1="301.55" y1="500.3" x2="301.55" y2="501.8" stroke="#444" stroke-width="0.7"/>
<line x1="305.91" y1="500.3" x2="305.91" y2="501.8" stroke="#444" stroke-width="0.7"/>
<line x1="309.29" y1="500.3" x2="309.29" y2="501.8" stroke="#444" stroke-width="0.7"/>
<line x1="312.06" y1="500.3" x2="312.06" y2="501.8" stroke="#444" stroke-width="0.7"/>
<line x1="314.39" y1="500.3" x2="314.39" y2="501.8" stroke="#444" stroke-width="0.7"/>
<line x1="316.42" y1="500.3" x2="316.42" y2="501.8" stroke="#444" stroke-width="0.7"/>
<line x1="318.20" y1="500.3" x2="318.20" y2="501.8" stroke="#444" stroke-width="0.7"/>
<line x1="319.80" y1="500.3" x2="319.80" y2="503.5" stroke="#444" stroke-width="0.7"/>
<line x1="330.31" y1="500.3" x2="330.31" y2="501.8" stroke="#444" stroke-width="0.7"/>
<line x1="336.45" y1="500.3" x2="336.45" y2="501.8" stroke="#444" stroke-width="0.7"/>
<line x1="340.81" y1="500.3" x2="340.81" y2="501.8" stroke="#444" stroke-width="0.7"/>
<line x1="344.19" y1="500.3" x2="344.19" y2="501.8" stroke="#444" stroke-width="0.7"/>
<line x1="346.96" y1="500.3" x2="346.96" y2="501.8" stroke="#444" stroke-width="0.7"/>
<line x1="349.29" y1="500.3" x2="349.29" y2="501.8" stroke="#444" stroke-width="0.7"/>
<line x1="351.32" y1="500.3" x2="351.32" y2="501.8" stroke="#444" stroke-width="0.7"/>
<line x1="353.10" y1="500.3" x2="353.10" y2="501.8" stroke="#444" stroke-width="0.7"/>
<line x1="354.70" y1="500.3" x2="354.70" y2="503.5" stroke="#444" stroke-width="0.7"/>
<line x1="365.21" y1="500.3" x2="365.21" y2="501.8" stroke="#444" stroke-width="0.7"/>
<line x1="371.35" y1="500.3" x2="371.35" y2="501.8" stroke="#444" stroke-width="0.7"/>
<line x1="375.71" y1="500.3" x2="375.71" y2="501.8" stroke="#444" stroke-width="0.7"/>
<line x1="379.09" y1="500.3" x2="379.09" y2="501.8" stroke="#444" stroke-width="0.7"/>
<line x1="381.86" y1="500.3" x2="381.86" y2="501.8" stroke="#444" stroke-width="0.7"/>
<line x1="384.19" y1="500.3" x2="384.19" y2="501.8" stroke="#444" stroke-width="0.7"/>
<line x1="386.22" y1="500.3" x2="386.22" y2="501.8" stroke="#444" stroke-width="0.7"/>
<line x1="388.00" y1="500.3" x2="388.00" y2="501.8" stroke="#444" stroke-width="0.7"/>
<line x1="389.60" y1="500.3" x2="389.60" y2="503.5" stroke="#444" stroke-width="0.7"/>
<line x1="400.11" y1="500.3" x2="400.11" y2="501.8" stroke="#444" stroke-width="0.7"/>
<line x1="406.25" y1="500.3" x2="406.25" y2="501.8" stroke="#444" stroke-width="0.7"/>
<line x1="410.61" y1="500.3" x2="410.61" y2="501.8" stroke="#444" stroke-width="0.7"/>
<line x1="413.99" y1="500.3" x2="413.99" y2="501.8" stroke="#444" stroke-width="0.7"/>
<line x1="416.76" y1="500.3" x2="416.76" y2="501.8" stroke="#444" stroke-width="0.7"/>
<line x1="419.09" y1="500.3" x2="419.09" y2="501.8" stroke="#444" stroke-width="0.7"/>
<line x1="421.12" y1="500.3" x2="421.12" y2="501.8" stroke="#444" stroke-width="0.7"/>
<line x1="422.90" y1="500.3" x2="422.90" y2="501.8" stroke="#444" stroke-width="0.7"/>
<line x1="424.5" y1="500.3" x2="424.5" y2="503.5" stroke="#444" stroke-width="0.7"/>
<text x="318.70" y="512.9" font-size="7.0" text-anchor="middle">10</text>
<text x="322.40" y="510.4" font-size="4.4">3</text>
<text x="353.60" y="512.9" font-size="7.0" text-anchor="middle">10</text>
<text x="357.30" y="510.4" font-size="4.4">4</text>
<text x="388.50" y="512.9" font-size="7.0" text-anchor="middle">10</text>
<text x="392.20" y="510.4" font-size="4.4">5</text>
<text x="423.40" y="512.9" font-size="7.0" text-anchor="middle">10</text>
<text x="427.10" y="510.4" font-size="4.4">6</text>
<line x1="285.5" y1="399.5" x2="326.6" y2="399.5" stroke="#333" stroke-width="0.9"/>
<line x1="326.6" y1="421.5" x2="425.5" y2="421.5" stroke="#333" stroke-width="0.9"/>
<text x="353.5" y="349.0" font-size="20" text-anchor="middle" font-weight="normal" fill="#000" textLength="81.2" lengthAdjust="spacingAndGlyphs"  stroke="#000" stroke-width="0.25">no stress</text>
<text x="375.7" y="377.8" font-size="15.2" text-anchor="middle" font-weight="normal" fill="#d81b5c" textLength="31.5" lengthAdjust="spacingAndGlyphs"  stroke="#d81b5c" stroke-width="0.25">GFP</text>
<text x="378.0" y="393.5" font-size="15.2" text-anchor="middle" font-weight="normal" fill="#d81b5c" textLength="52.5" lengthAdjust="spacingAndGlyphs"  stroke="#d81b5c" stroke-width="0.25">positive</text>
<text x="378.0" y="409.9" font-size="15.2" text-anchor="middle" font-weight="normal" fill="#d81b5c" textLength="59.3" lengthAdjust="spacingAndGlyphs"  stroke="#d81b5c" stroke-width="0.25">(74.1 %)</text>
<text transform="translate(246.1 424) rotate(-90)" font-size="17.5" text-anchor="middle" textLength="52.5" lengthAdjust="spacingAndGlyphs" stroke="#000" stroke-width="0.25">counts</text>
<clipPath id="c502m"><rect x="543.6" y="360.5" width="99.19999999999993" height="140.0"/></clipPath>
<path d="M503.60,500.30 C504.45,500.29 508.28,500.32 510.00,500.20 C511.72,500.08 514.78,499.77 516.50,499.40 C518.22,499.03 521.30,498.09 522.90,497.40 C524.50,496.71 527.01,495.16 528.50,494.20 C529.99,493.24 532.71,491.16 534.10,490.20 C535.49,489.24 537.61,487.96 538.90,487.00 C540.19,486.04 542.83,484.39 543.80,483.00 C544.77,481.61 545.56,478.75 546.20,476.60 C546.84,474.45 547.96,469.90 548.60,466.90 C549.24,463.90 550.32,457.31 551.00,454.10 C551.68,450.89 553.11,445.88 553.70,442.80 C554.29,439.72 555.07,434.20 555.40,431.00 C555.73,427.80 555.95,422.05 556.20,418.80 C556.45,415.55 556.98,409.67 557.30,406.60 C557.62,403.53 558.24,399.04 558.60,395.80 C558.96,392.56 559.63,385.37 560.00,382.30 C560.37,379.23 560.95,374.79 561.40,372.80 C561.85,370.81 562.96,367.76 563.40,367.40 C563.84,367.04 564.34,368.47 564.70,370.10 C565.06,371.73 565.65,377.08 566.10,379.60 C566.55,382.12 567.57,386.31 568.10,389.00 C568.63,391.69 569.55,397.27 570.10,399.80 C570.65,402.33 571.65,405.47 572.20,408.00 C572.75,410.53 573.67,415.87 574.20,418.80 C574.73,421.73 575.55,426.80 576.20,430.00 C576.85,433.20 578.29,439.59 579.10,442.80 C579.91,446.01 581.45,450.89 582.30,454.10 C583.15,457.31 584.65,463.90 585.50,466.90 C586.35,469.90 587.74,474.03 588.70,476.60 C589.66,479.17 591.41,483.85 592.70,486.20 C593.99,488.55 596.89,492.59 598.40,494.20 C599.91,495.81 602.51,497.49 604.00,498.30 C605.49,499.11 608.85,500.03 609.60,500.30 L609.60,500.5 L503.60,500.5 Z" fill="#00b24b"/>
<path d="M503.60,500.30 C504.45,500.29 508.28,500.32 510.00,500.20 C511.72,500.08 514.78,499.77 516.50,499.40 C518.22,499.03 521.30,498.09 522.90,497.40 C524.50,496.71 527.01,495.16 528.50,494.20 C529.99,493.24 532.71,491.16 534.10,490.20 C535.49,489.24 537.61,487.96 538.90,487.00 C540.19,486.04 542.83,484.39 543.80,483.00 C544.77,481.61 545.56,478.75 546.20,476.60 C546.84,474.45 547.96,469.90 548.60,466.90 C549.24,463.90 550.32,457.31 551.00,454.10 C551.68,450.89 553.11,445.88 553.70,442.80 C554.29,439.72 555.07,434.20 555.40,431.00 C555.73,427.80 555.95,422.05 556.20,418.80 C556.45,415.55 556.98,409.67 557.30,406.60 C557.62,403.53 558.24,399.04 558.60,395.80 C558.96,392.56 559.63,385.37 560.00,382.30 C560.37,379.23 560.95,374.79 561.40,372.80 C561.85,370.81 562.96,367.76 563.40,367.40 C563.84,367.04 564.34,368.47 564.70,370.10 C565.06,371.73 565.65,377.08 566.10,379.60 C566.55,382.12 567.57,386.31 568.10,389.00 C568.63,391.69 569.55,397.27 570.10,399.80 C570.65,402.33 571.65,405.47 572.20,408.00 C572.75,410.53 573.67,415.87 574.20,418.80 C574.73,421.73 575.55,426.80 576.20,430.00 C576.85,433.20 578.29,439.59 579.10,442.80 C579.91,446.01 581.45,450.89 582.30,454.10 C583.15,457.31 584.65,463.90 585.50,466.90 C586.35,469.90 587.74,474.03 588.70,476.60 C589.66,479.17 591.41,483.85 592.70,486.20 C593.99,488.55 596.89,492.59 598.40,494.20 C599.91,495.81 602.51,497.49 604.00,498.30 C605.49,499.11 608.85,500.03 609.60,500.30 L609.60,500.5 L503.60,500.5 Z" fill="#b4004b" clip-path="url(#c502m)"/>
<path d="M503.60,500.30 C504.45,500.29 508.28,500.32 510.00,500.20 C511.72,500.08 514.78,499.77 516.50,499.40 C518.22,499.03 521.30,498.09 522.90,497.40 C524.50,496.71 527.01,495.16 528.50,494.20 C529.99,493.24 532.71,491.16 534.10,490.20 C535.49,489.24 537.61,487.96 538.90,487.00 C540.19,486.04 542.83,484.39 543.80,483.00 C544.77,481.61 545.56,478.75 546.20,476.60 C546.84,474.45 547.96,469.90 548.60,466.90 C549.24,463.90 550.32,457.31 551.00,454.10 C551.68,450.89 553.11,445.88 553.70,442.80 C554.29,439.72 555.07,434.20 555.40,431.00 C555.73,427.80 555.95,422.05 556.20,418.80 C556.45,415.55 556.98,409.67 557.30,406.60 C557.62,403.53 558.24,399.04 558.60,395.80 C558.96,392.56 559.63,385.37 560.00,382.30 C560.37,379.23 560.95,374.79 561.40,372.80 C561.85,370.81 562.96,367.76 563.40,367.40 C563.84,367.04 564.34,368.47 564.70,370.10 C565.06,371.73 565.65,377.08 566.10,379.60 C566.55,382.12 567.57,386.31 568.10,389.00 C568.63,391.69 569.55,397.27 570.10,399.80 C570.65,402.33 571.65,405.47 572.20,408.00 C572.75,410.53 573.67,415.87 574.20,418.80 C574.73,421.73 575.55,426.80 576.20,430.00 C576.85,433.20 578.29,439.59 579.10,442.80 C579.91,446.01 581.45,450.89 582.30,454.10 C583.15,457.31 584.65,463.90 585.50,466.90 C586.35,469.90 587.74,474.03 588.70,476.60 C589.66,479.17 591.41,483.85 592.70,486.20 C593.99,488.55 596.89,492.59 598.40,494.20 C599.91,495.81 602.51,497.49 604.00,498.30 C605.49,499.11 608.85,500.03 609.60,500.30" fill="none" stroke="#1a0510" stroke-width="0.9" stroke-opacity="0.85"/>
<rect x="502.5" y="360.5" width="140.29999999999995" height="140.0" fill="none" stroke="#555" stroke-width="1.1"/>
<line x1="499.5" y1="500.50" x2="502.5" y2="500.50" stroke="#444" stroke-width="0.9"/>
<text x="496.20" y="505.10" font-size="13.8" text-anchor="end" font-weight="normal" fill="#000"  stroke="#000" stroke-width="0.25">0</text>
<line x1="499.5" y1="475.25" x2="502.5" y2="475.25" stroke="#444" stroke-width="0.9"/>
<text x="497.70" y="479.85" font-size="13.8" text-anchor="end" font-weight="normal" fill="#000"  stroke="#000" stroke-width="0.25">50</text>
<line x1="499.5" y1="450.00" x2="502.5" y2="450.00" stroke="#444" stroke-width="0.9"/>
<text x="497.70" y="454.60" font-size="13.8" text-anchor="end" font-weight="normal" fill="#000"  stroke="#000" stroke-width="0.25">100</text>
<line x1="499.5" y1="424.75" x2="502.5" y2="424.75" stroke="#444" stroke-width="0.9"/>
<text x="497.70" y="429.35" font-size="13.8" text-anchor="end" font-weight="normal" fill="#000"  stroke="#000" stroke-width="0.25">150</text>
<line x1="499.5" y1="399.50" x2="502.5" y2="399.50" stroke="#444" stroke-width="0.9"/>
<text x="497.70" y="404.10" font-size="13.8" text-anchor="end" font-weight="normal" fill="#000"  stroke="#000" stroke-width="0.25">200</text>
<line x1="499.5" y1="374.25" x2="502.5" y2="374.25" stroke="#444" stroke-width="0.9"/>
<text x="497.70" y="378.85" font-size="13.8" text-anchor="end" font-weight="normal" fill="#000"  stroke="#000" stroke-width="0.25">250</text>
<line x1="500.7" y1="495.45" x2="502.5" y2="495.45" stroke="#444" stroke-width="0.8"/>
<line x1="500.7" y1="490.40" x2="502.5" y2="490.40" stroke="#444" stroke-width="0.8"/>
<line x1="500.7" y1="485.35" x2="502.5" y2="485.35" stroke="#444" stroke-width="0.8"/>
<line x1="500.7" y1="480.30" x2="502.5" y2="480.30" stroke="#444" stroke-width="0.8"/>
<line x1="500.7" y1="470.20" x2="502.5" y2="470.20" stroke="#444" stroke-width="0.8"/>
<line x1="500.7" y1="465.15" x2="502.5" y2="465.15" stroke="#444" stroke-width="0.8"/>
<line x1="500.7" y1="460.10" x2="502.5" y2="460.10" stroke="#444" stroke-width="0.8"/>
<line x1="500.7" y1="455.05" x2="502.5" y2="455.05" stroke="#444" stroke-width="0.8"/>
<line x1="500.7" y1="444.95" x2="502.5" y2="444.95" stroke="#444" stroke-width="0.8"/>
<line x1="500.7" y1="439.90" x2="502.5" y2="439.90" stroke="#444" stroke-width="0.8"/>
<line x1="500.7" y1="434.85" x2="502.5" y2="434.85" stroke="#444" stroke-width="0.8"/>
<line x1="500.7" y1="429.80" x2="502.5" y2="429.80" stroke="#444" stroke-width="0.8"/>
<line x1="500.7" y1="419.70" x2="502.5" y2="419.70" stroke="#444" stroke-width="0.8"/>
<line x1="500.7" y1="414.65" x2="502.5" y2="414.65" stroke="#444" stroke-width="0.8"/>
<line x1="500.7" y1="409.60" x2="502.5" y2="409.60" stroke="#444" stroke-width="0.8"/>
<line x1="500.7" y1="404.55" x2="502.5" y2="404.55" stroke="#444" stroke-width="0.8"/>
<line x1="500.7" y1="394.45" x2="502.5" y2="394.45" stroke="#444" stroke-width="0.8"/>
<line x1="500.7" y1="389.40" x2="502.5" y2="389.40" stroke="#444" stroke-width="0.8"/>
<line x1="500.7" y1="384.35" x2="502.5" y2="384.35" stroke="#444" stroke-width="0.8"/>
<line x1="500.7" y1="379.30" x2="502.5" y2="379.30" stroke="#444" stroke-width="0.8"/>
<line x1="500.7" y1="369.20" x2="502.5" y2="369.20" stroke="#444" stroke-width="0.8"/>
<line x1="500.7" y1="364.15" x2="502.5" y2="364.15" stroke="#444" stroke-width="0.8"/>
<line x1="512.43" y1="500.5" x2="512.43" y2="502.0" stroke="#444" stroke-width="0.7"/>
<line x1="518.59" y1="500.5" x2="518.59" y2="502.0" stroke="#444" stroke-width="0.7"/>
<line x1="522.96" y1="500.5" x2="522.96" y2="502.0" stroke="#444" stroke-width="0.7"/>
<line x1="526.35" y1="500.5" x2="526.35" y2="502.0" stroke="#444" stroke-width="0.7"/>
<line x1="529.12" y1="500.5" x2="529.12" y2="502.0" stroke="#444" stroke-width="0.7"/>
<line x1="531.46" y1="500.5" x2="531.46" y2="502.0" stroke="#444" stroke-width="0.7"/>
<line x1="533.49" y1="500.5" x2="533.49" y2="502.0" stroke="#444" stroke-width="0.7"/>
<line x1="535.27" y1="500.5" x2="535.27" y2="502.0" stroke="#444" stroke-width="0.7"/>
<line x1="536.88" y1="500.5" x2="536.88" y2="503.7" stroke="#444" stroke-width="0.7"/>
<line x1="547.40" y1="500.5" x2="547.40" y2="502.0" stroke="#444" stroke-width="0.7"/>
<line x1="553.56" y1="500.5" x2="553.56" y2="502.0" stroke="#444" stroke-width="0.7"/>
<line x1="557.93" y1="500.5" x2="557.93" y2="502.0" stroke="#444" stroke-width="0.7"/>
<line x1="561.32" y1="500.5" x2="561.32" y2="502.0" stroke="#444" stroke-width="0.7"/>
<line x1="564.09" y1="500.5" x2="564.09" y2="502.0" stroke="#444" stroke-width="0.7"/>
<line x1="566.43" y1="500.5" x2="566.43" y2="502.0" stroke="#444" stroke-width="0.7"/>
<line x1="568.46" y1="500.5" x2="568.46" y2="502.0" stroke="#444" stroke-width="0.7"/>
<line x1="570.25" y1="500.5" x2="570.25" y2="502.0" stroke="#444" stroke-width="0.7"/>
<line x1="571.85" y1="500.5" x2="571.85" y2="503.7" stroke="#444" stroke-width="0.7"/>
<line x1="582.38" y1="500.5" x2="582.38" y2="502.0" stroke="#444" stroke-width="0.7"/>
<line x1="588.54" y1="500.5" x2="588.54" y2="502.0" stroke="#444" stroke-width="0.7"/>
<line x1="592.91" y1="500.5" x2="592.91" y2="502.0" stroke="#444" stroke-width="0.7"/>
<line x1="596.30" y1="500.5" x2="596.30" y2="502.0" stroke="#444" stroke-width="0.7"/>
<line x1="599.07" y1="500.5" x2="599.07" y2="502.0" stroke="#444" stroke-width="0.7"/>
<line x1="601.41" y1="500.5" x2="601.41" y2="502.0" stroke="#444" stroke-width="0.7"/>
<line x1="603.44" y1="500.5" x2="603.44" y2="502.0" stroke="#444" stroke-width="0.7"/>
<line x1="605.22" y1="500.5" x2="605.22" y2="502.0" stroke="#444" stroke-width="0.7"/>
<line x1="606.82" y1="500.5" x2="606.82" y2="503.7" stroke="#444" stroke-width="0.7"/>
<line x1="617.35" y1="500.5" x2="617.35" y2="502.0" stroke="#444" stroke-width="0.7"/>
<line x1="623.51" y1="500.5" x2="623.51" y2="502.0" stroke="#444" stroke-width="0.7"/>
<line x1="627.88" y1="500.5" x2="627.88" y2="502.0" stroke="#444" stroke-width="0.7"/>
<line x1="631.27" y1="500.5" x2="631.27" y2="502.0" stroke="#444" stroke-width="0.7"/>
<line x1="634.04" y1="500.5" x2="634.04" y2="502.0" stroke="#444" stroke-width="0.7"/>
<line x1="636.38" y1="500.5" x2="636.38" y2="502.0" stroke="#444" stroke-width="0.7"/>
<line x1="638.41" y1="500.5" x2="638.41" y2="502.0" stroke="#444" stroke-width="0.7"/>
<line x1="640.20" y1="500.5" x2="640.20" y2="502.0" stroke="#444" stroke-width="0.7"/>
<line x1="641.8" y1="500.5" x2="641.8" y2="503.7" stroke="#444" stroke-width="0.7"/>
<text x="535.77" y="512.9" font-size="7.0" text-anchor="middle">10</text>
<text x="539.48" y="510.4" font-size="4.4">3</text>
<text x="570.75" y="512.9" font-size="7.0" text-anchor="middle">10</text>
<text x="574.45" y="510.4" font-size="4.4">4</text>
<text x="605.72" y="512.9" font-size="7.0" text-anchor="middle">10</text>
<text x="609.42" y="510.4" font-size="4.4">5</text>
<text x="640.70" y="512.9" font-size="7.0" text-anchor="middle">10</text>
<text x="644.40" y="510.4" font-size="4.4">6</text>
<line x1="502.5" y1="399.5" x2="543.9" y2="399.5" stroke="#333" stroke-width="0.9"/>
<line x1="543.9" y1="421.5" x2="642.8" y2="421.5" stroke="#333" stroke-width="0.9"/>
<line x1="543.9" y1="396.5" x2="543.9" y2="402.5" stroke="#333" stroke-width="0.9"/>
<line x1="543.9" y1="418.5" x2="543.9" y2="424.5" stroke="#333" stroke-width="0.9"/>
<text x="569.0" y="350.0" font-size="20" text-anchor="middle" font-weight="normal" fill="#000" textLength="53" lengthAdjust="spacingAndGlyphs"  stroke="#000" stroke-width="0.25">stress</text>
<text x="602.8" y="379.0" font-size="15.2" text-anchor="middle" font-weight="normal" fill="#d81b5c" textLength="31.5" lengthAdjust="spacingAndGlyphs"  stroke="#d81b5c" stroke-width="0.25">GFP</text>
<text x="604.9" y="394.6" font-size="15.2" text-anchor="middle" font-weight="normal" fill="#d81b5c" textLength="52.2" lengthAdjust="spacingAndGlyphs"  stroke="#d81b5c" stroke-width="0.25">positive</text>
<text x="604.9" y="411.0" font-size="15.2" text-anchor="middle" font-weight="normal" fill="#d81b5c" textLength="59.2" lengthAdjust="spacingAndGlyphs"  stroke="#d81b5c" stroke-width="0.25">(94.7 %)</text>
<text transform="translate(461.6 425.5) rotate(-90)" font-size="17.5" text-anchor="middle" textLength="51" lengthAdjust="spacingAndGlyphs" stroke="#000" stroke-width="0.25">counts</text>
<text x="384.6" y="308.6" font-size="20.2" textLength="139.3" lengthAdjust="spacingAndGlyphs" stroke="#000" stroke-width="0.25">p<tspan font-style="italic">lmo2230</tspan>::<tspan font-style="italic">egfp</tspan></text>
<path d="M280.1,331.1 V326.9 H638.6 V331.1" fill="none" stroke="#333" stroke-width="1.3"/>
</svg>
</body></html>
